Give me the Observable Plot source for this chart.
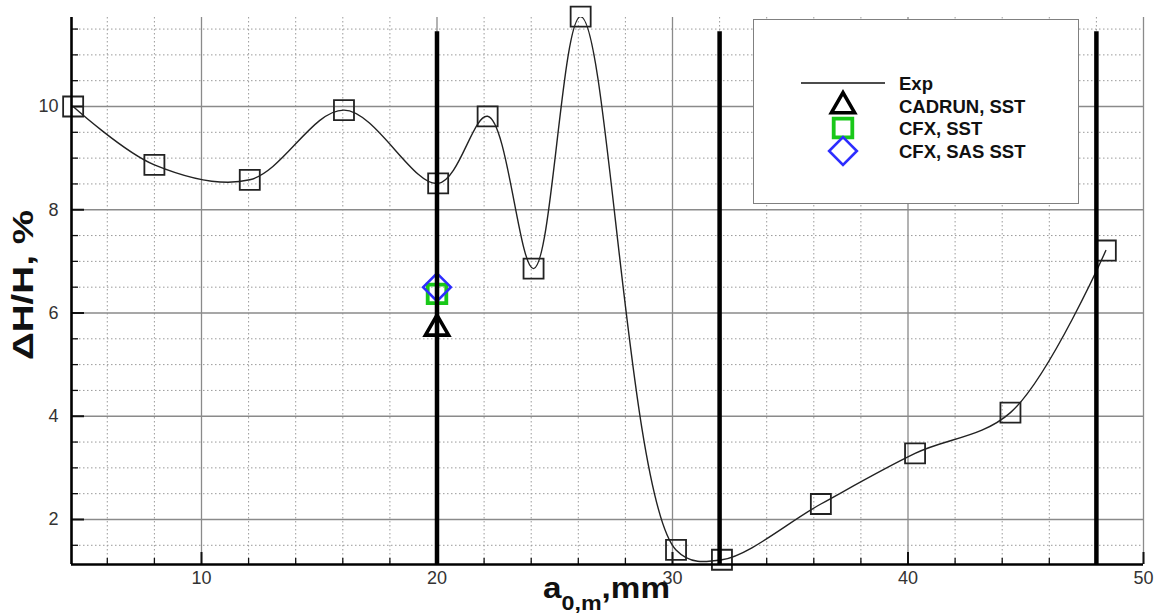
<!DOCTYPE html>
<html><head><meta charset="utf-8">
<script src="https://cdn.jsdelivr.net/npm/d3@7"></script>
<script src="https://cdn.jsdelivr.net/npm/@observablehq/plot@0.6"></script>
<style>
body{margin:0;background:#fff;}
#wrap{position:relative;width:1165px;height:614px;}
#legend{position:absolute;left:753px;top:19px;width:326px;height:185px;border:1.5px solid #808080;background:#fff;box-sizing:border-box;}
#legend svg{position:absolute;left:0;top:0;}
</style></head><body><div id="wrap"></div>
<script>
// Experimental series (squares + smooth line)
const expX = [4.55, 8.0, 12.05, 16.05, 20.05, 22.15, 24.1, 26.1, 30.15, 32.1, 36.3, 40.3, 44.35, 48.4];
const expY = [10.0, 8.87, 8.58, 9.93, 8.51, 9.81, 6.86, 11.74, 1.41, 1.22, 2.3, 3.28, 4.07, 7.21];
// Computed single points
const cadrunX = [20], cadrunY = [5.7];
const cfxSstX = [20], cfxSstY = [6.37];
const cfxSasX = [20], cfxSasY = [6.5];
// Thick vertical reference lines
const limitX = [20, 32, 48];
const limitTop = 11.45;
// Ticks
const xMajor = [10, 20, 30, 40, 50];
const yMajor = [2, 4, 6, 8, 10];
const xMinor = [6, 8, 12, 14, 16, 18, 22, 24, 26, 28, 32, 34, 36, 38, 42, 44, 46, 48];
const yMinor = [1.5, 2.5, 3, 3.5, 4.5, 5, 5.5, 6.5, 7, 7.5, 8.5, 9, 9.5, 10.5, 11, 11.5];
const xDomain = [4.48, 50];
const yDomain = [1.128, 11.724];
// Legend
const legendLabels = ["Exp", "CADRUN, SST", "CFX, SST", "CFX, SAS SST"];

const exp = expX.map((x, i) => ({x, y: expY[i]}));
const cadrun = cadrunX.map((x, i) => ({x, y: cadrunY[i]}));
const cfxSst = cfxSstX.map((x, i) => ({x, y: cfxSstY[i]}));
const cfxSas = cfxSasX.map((x, i) => ({x, y: cfxSasY[i]}));

const chart = Plot.plot({
  width: 1165, height: 614,
  marginLeft: 71, marginRight: 22, marginTop: 17, marginBottom: 50,
  x: {domain: xDomain, label: null},
  y: {domain: yDomain, label: null},
  style: {fontFamily: "'Liberation Sans', Arial, sans-serif", fontSize: "18px", color: "#333", background: "#fff", overflow: "visible"},
  marks: [
    Plot.ruleX(xMinor, {stroke: "#9a9a9a", strokeWidth: 1, strokeDasharray: "1.5,2.5"}),
    Plot.ruleY(yMinor, {stroke: "#9a9a9a", strokeWidth: 1, strokeDasharray: "1.5,2.5"}),
    Plot.ruleX(xMajor, {stroke: "#8a8a8a", strokeWidth: 1.3}),
    Plot.ruleY(yMajor, {stroke: "#8a8a8a", strokeWidth: 1.3}),
    // inward tick marks
    Plot.ruleX(xMajor, {x: d => d, y1: yDomain[0], y2: yDomain[0], insetTop: -12, stroke: "#111", strokeWidth: 2}),
    Plot.ruleX(xMinor, {x: d => d, y1: yDomain[0], y2: yDomain[0], insetTop: -6, stroke: "#111", strokeWidth: 1.3}),
    Plot.ruleY(yMajor, {y: d => d, x1: xDomain[0], x2: xDomain[0], insetRight: -13, stroke: "#111", strokeWidth: 2}),
    Plot.ruleY(yMinor, {y: d => d, x1: xDomain[0], x2: xDomain[0], insetRight: -7, stroke: "#111", strokeWidth: 1.3}),
    Plot.axisX(xMajor, {tickSize: 0, tickPadding: 7, label: null, fontSize: 18, tickFormat: d => String(d)}),
    Plot.axisY(yMajor, {tickSize: 0, tickPadding: 13, label: null, fontSize: 18, tickFormat: d => String(d)}),
    // experiment
    Plot.line(exp, {x: "x", y: "y", curve: "catmull-rom", stroke: "#222", strokeWidth: 1.4, clip: true}),
    Plot.dot(exp, {x: "x", y: "y", symbol: "square", r: 11.3, stroke: "#222", strokeWidth: 1.8, fill: "none"}),
    // computations
    Plot.dot(cadrun, {x: "x", y: "y", symbol: "triangle", r: 8.6, stroke: "#000", strokeWidth: 3.6, fill: "none"}),
    Plot.dot(cfxSst, {x: "x", y: "y", symbol: "square", r: 10.5, stroke: "#19c819", strokeWidth: 3.8, fill: "none"}),
    Plot.dot(cfxSas, {x: "x", y: "y", symbol: "diamond2", r: 12.5, stroke: "#2d2dff", strokeWidth: 2.6, fill: "none"}),
    // thick vertical lines
    Plot.ruleX(limitX, {y1: yDomain[0], y2: limitTop, stroke: "#000", strokeWidth: 4.5}),
    // axis lines
    Plot.ruleX([xDomain[0]], {stroke: "#000", strokeWidth: 2.6}),
    Plot.ruleY([yDomain[0]], {stroke: "#000", strokeWidth: 2.6})
  ]
});

const svg = d3.select(chart);
const ff = "'Liberation Sans', Arial, sans-serif";
svg.selectAll("text").each(function() {
  if (/^\d+$/.test(this.textContent)) d3.select(this).style("font-size", "18px").style("font-family", ff).attr("fill", "#333");
});
svg.append("text")
  .attr("transform", "translate(33,285) rotate(-90)")
  .attr("text-anchor", "middle")
  .attr("font-family", ff).attr("font-weight", "bold").attr("font-size", 29)
  .attr("fill", "#111")
  .attr("textLength", 150).attr("lengthAdjust", "spacingAndGlyphs")
  .text("ΔH/H, %");
const xl = svg.append("text")
  .attr("x", 543).attr("y", 598)
  .attr("text-anchor", "start")
  .attr("font-family", ff).attr("font-weight", "bold").attr("font-size", 30)
  .attr("fill", "#111");
xl.append("tspan").text("a");
xl.append("tspan").attr("font-size", 21).attr("dy", 12).text("0,m");
xl.append("tspan").attr("dy", -12).text(",mm");
xl.attr("textLength", 127).attr("lengthAdjust", "spacingAndGlyphs");

const wrap = document.getElementById("wrap");
wrap.appendChild(chart);

// legend
const leg = document.createElement("div");
leg.id = "legend";
wrap.appendChild(leg);
const ls = d3.select(leg).append("svg").attr("width", 326).attr("height", 185);
const ty = [70, 93, 115, 138];
ls.selectAll("text.l").data(legendLabels).join("text")
  .attr("x", 145).attr("y", (d, i) => ty[i])
  .attr("font-family", ff).attr("font-weight", "bold").attr("font-size", 18.5)
  .attr("fill", "#111").text(d => d);
ls.append("line").attr("x1", 47).attr("x2", 131).attr("y1", 63).attr("y2", 63).attr("stroke", "#111").attr("stroke-width", 1.4);
ls.append("path").attr("d", d3.symbol(d3.symbolTriangle, 8.6*8.6*Math.PI)()).attr("transform", "translate(89,86)")
  .attr("fill", "none").attr("stroke", "#000").attr("stroke-width", 3.6);
ls.append("path").attr("d", d3.symbol(d3.symbolSquare, 10.5*10.5*Math.PI)()).attr("transform", "translate(89,108)")
  .attr("fill", "none").attr("stroke", "#19c819").attr("stroke-width", 3.8);
ls.append("path").attr("d", d3.symbol(d3.symbolDiamond2, 12.5*12.5*Math.PI)()).attr("transform", "translate(89,131)")
  .attr("fill", "none").attr("stroke", "#2d2dff").attr("stroke-width", 2.6);
</script>
</body></html>
